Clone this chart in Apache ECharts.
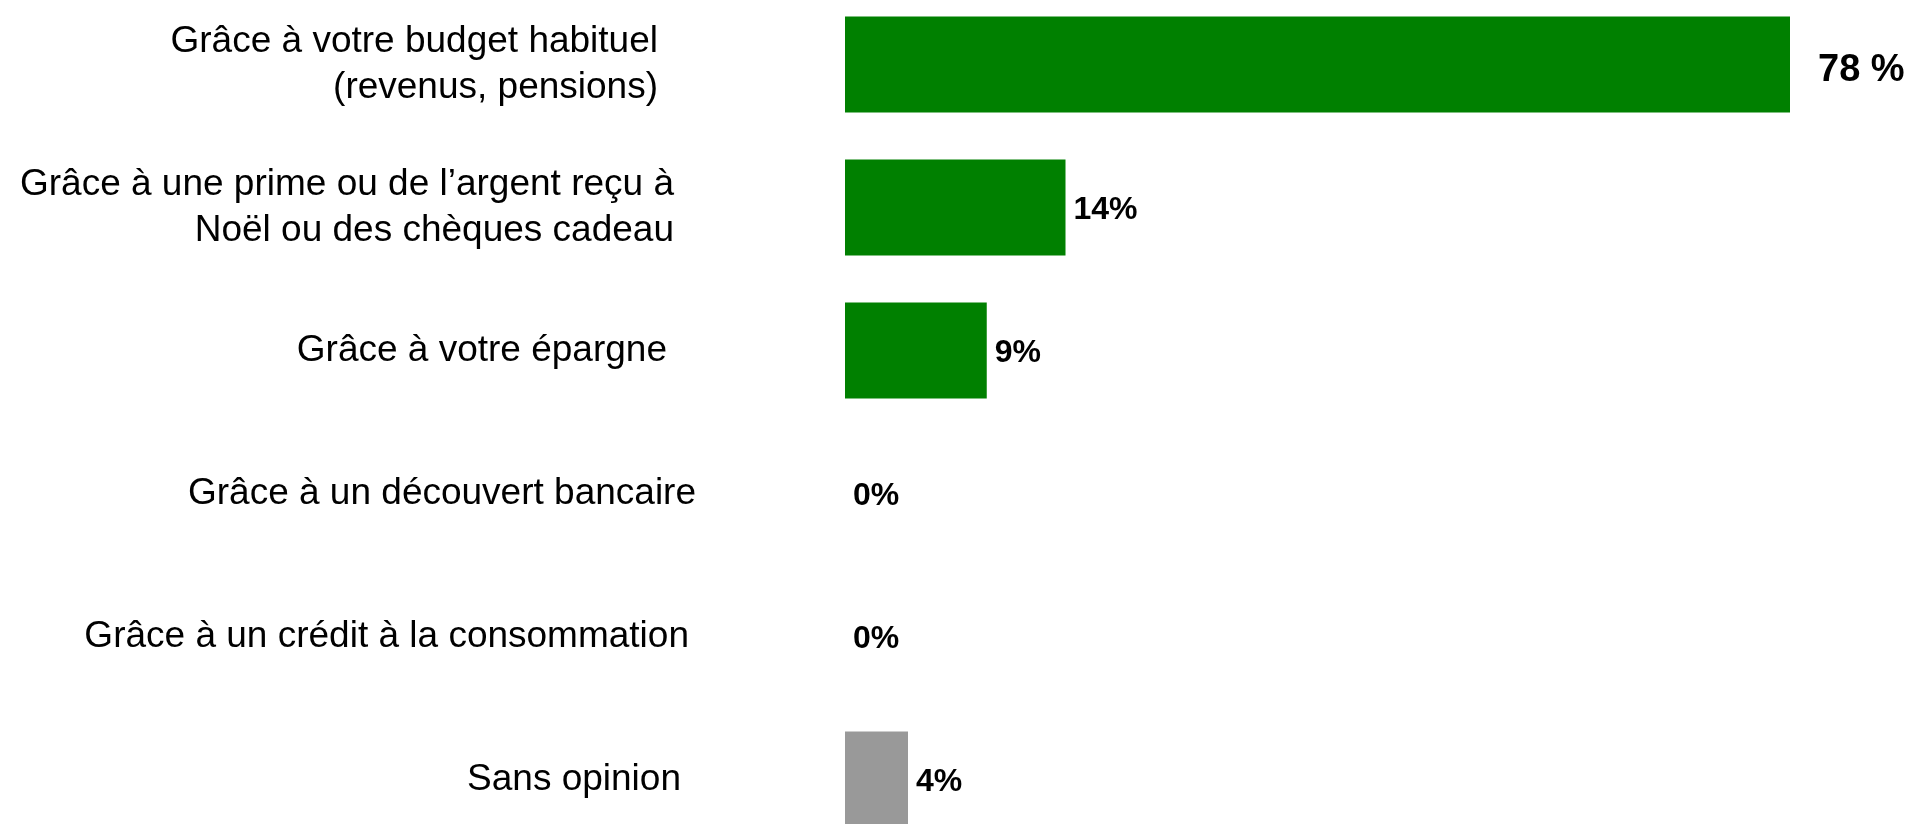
<!DOCTYPE html>
<html>
<head>
<meta charset="utf-8">
<script src="https://cdn.jsdelivr.net/npm/echarts@6/dist/echarts.min.js"></script>
<style>
  html, body { margin: 0; padding: 0; background: #fff; }
  #chart { width: 1910px; height: 824px; }
</style>
</head>
<body>
<div id="chart"></div>
<script>
// categories, top to bottom
const categories = [
  "Grâce à votre budget habituel\n(revenus, pensions)",
  "Grâce à une prime ou de l’argent reçu à\nNoël ou des chèques cadeau",
  "Grâce à votre épargne",
  "Grâce à un découvert bancaire",
  "Grâce à un crédit à la consommation",
  "Sans opinion",
];
const values = [78, 14, 9, 0, 0, 4];
const valueLabels = ["78 %", "14%", "9%", "0%", "0%", "4%"];
const barColors = ["#008000", "#008000", "#008000", "#008000", "#008000", "#999999"];

// label tweaks (right padding / vertical shift of each category text)
const padRight = [38, 22, 29, 0, 7, 15];
const shiftY = [-12, -6, 0, 8, 7, -3];

const chart = echarts.init(document.getElementById("chart"));

const option = {
  animation: false,
  textStyle: { fontFamily: "Liberation Sans, Arial, sans-serif" },
  // the last row runs a bit past the bottom edge, like in the original
  grid: { left: 845, right: 120, top: -7, bottom: -27, outerBoundsMode: "none" },
  xAxis: {
    type: "value",
    min: 0,
    max: 60, // the big bar is cut short in the original
    show: false,
  },
  yAxis: {
    type: "category",
    inverse: true,
    data: categories.map((c, i) => ({
      value: c,
      textStyle: {
        padding: [
          shiftY[i] > 0 ? shiftY[i] * 2 : 0,
          padRight[i],
          shiftY[i] < 0 ? -shiftY[i] * 2 : 0,
          0,
        ],
      },
    })),
    axisLine: { show: false },
    axisTick: { show: false },
    splitLine: { show: false },
    axisLabel: {
      margin: 149,
      color: "#000",
      fontSize: 37,
      lineHeight: 46,
      align: "right",
    },
  },
  series: [
    {
      type: "bar",
      barWidth: 96,
      clip: true,
      data: values.map((v, i) => ({
        value: v,
        itemStyle: { color: barColors[i] },
        label: i === 0 ? { fontSize: 38, distance: 28, offset: [0, 6] } : {},
      })),
      label: {
        show: true,
        position: "right",
        distance: 8,
        offset: [0, 3],
        color: "#000",
        fontSize: 32,
        fontWeight: "bold",
        formatter: (p) => valueLabels[p.dataIndex],
      },
    },
  ],
};

chart.setOption(option);
</script>
</body>
</html>
